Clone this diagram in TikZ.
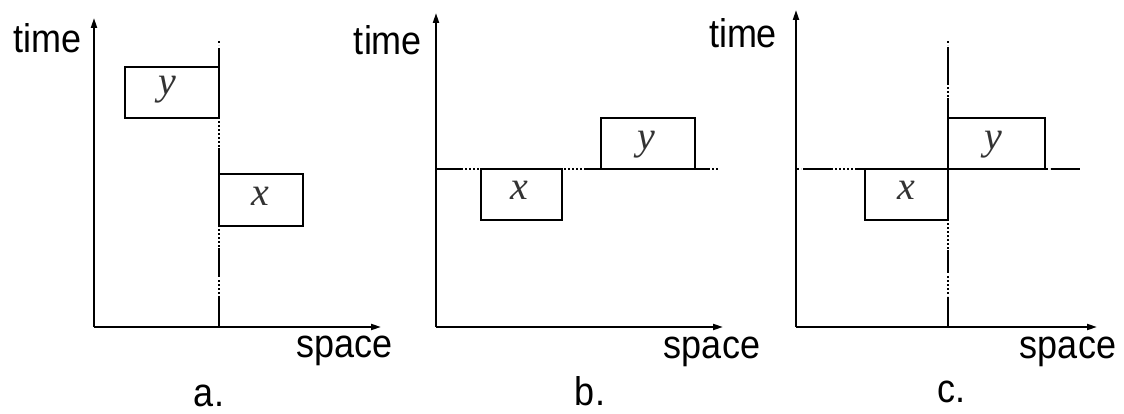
\documentclass[tikz,border=0pt]{standalone}
\usepackage{fontspec}
\setmainfont{Liberation Sans}
\newfontfamily\ltrserif{Liberation Serif}
\usetikzlibrary{arrows.meta}
\tikzset{
  ln/.style={line width=2pt, line cap=butt},
  axisln/.style={line width=2pt, -{Triangle[length=10pt,width=6pt]}},
  dotseg/.style={line width=2pt, dash pattern=on 2pt off 2pt},
  box/.style={draw, line width=2pt, inner sep=0pt, outer sep=0pt, rectangle},
  txt/.style={font=\fontsize{40}{44}\selectfont, inner sep=0pt, anchor=base, xscale=0.9, transform shape},
  var/.style={font=\ltrserif\itshape\fontsize{40}{44}\selectfont, inner sep=0pt, anchor=base, text=black!80},
}
\begin{document}
\begin{tikzpicture}[x=1pt,y=-1pt]
\useasboundingbox (0,0) rectangle (1124,414);
% ---------- panel a ----------
\coordinate (oa) at (94,327); \coordinate (ta) at (94,18); \coordinate (sa) at (381,327);
\draw[axisln] (oa) -- (ta);
\draw[axisln] (oa) -- (sa);
\node[txt] (timea) at (47.5,53) {time};
\node[txt] (spacea) at (344.5,357) {space};
\node[txt] (labela) at (209,406) {a.};
\node[box, minimum width=94pt, minimum height=51pt] (ay) at (172,92.5) {};
\node[box, minimum width=84pt, minimum height=51pt] (ax) at (261,200) {};
\node[var] (lay) at (167,95) {y};
\node[var] (lax) at (260,205) {x};
\draw[dotseg] (219,41) -- (219,45);
\draw[ln] (219,48) -- (219,118);
\draw[dotseg] (219,121) -- (219,147);
\draw[ln] (219,148) -- (219,226);
\draw[dotseg] (219,229) -- (219,247);
\draw[ln] (219,248) -- (219,277);
\draw[dotseg] (219,280) -- (219,295);
\draw[ln] (219,296) -- (oa -| ay.east);
% ---------- panel b ----------
\coordinate (ob) at (436,327); \coordinate (tb) at (436,13); \coordinate (sb) at (723,327);
\draw[axisln] (ob) -- (tb);
\draw[axisln] (ob) -- (sb);
\node[txt] (timeb) at (388,55) {time};
\node[txt] (spaceb) at (712,358) {space};
\node[txt] (labelb) at (590,405) {b.};
\node[box, minimum width=81pt, minimum height=51pt] (bx) at (521.5,194.5) {};
\node[box, minimum width=94pt, minimum height=51pt] (by) at (648,143.5) {};
\node[var] (lbx) at (519,200) {x};
\node[var] (lby) at (646,150) {y};
\draw[ln] (436,169) -- (463,169);
\draw[dotseg] (465,169) -- (480,169);
\draw[dotseg] (564,169) -- (583,169);
\draw[ln] (584,169) -- (by.south west);
\draw[ln] (by.south east) -- (710,169);
\draw[dotseg] (712,169) -- (718,169);
% ---------- panel c ----------
\coordinate (oc) at (796,327); \coordinate (tc) at (796,10); \coordinate (sc) at (1097,327);
\draw[axisln] (oc) -- (tc);
\draw[axisln] (oc) -- (sc);
\node[txt] (timec) at (743,48) {time};
\node[txt] (spacec) at (1068,358) {space};
\node[txt] (labelc) at (951,402) {c.};
\node[box, minimum width=83pt, minimum height=51pt] (cx) at (906.5,194.5) {};
\node[box, minimum width=97pt, minimum height=51pt] (cy) at (996.5,143.5) {};
\node[var] (lcx) at (906,200) {x};
\node[var] (lcy) at (993,150) {y};
% horizontal dash-dot line
\draw[dotseg] (797,169) -- (801,169);
\draw[ln] (803,169) -- (833,169);
\draw[dotseg] (835,169) -- (853,169);
\draw[ln] (855,169) -- (cx.north west);
\draw[dotseg] (1046,169) -- (1050,169);
\draw[ln] (1051,169) -- (1080,169);
% vertical dash-dot line
\draw[dotseg] (948,41) -- (948,45);
\draw[ln] (948,47) -- (948,85);
\draw[dotseg] (948,87) -- (948,97);
\draw[ln] (948,98) -- (cy.north west);
\draw[dotseg] (948,223) -- (948,249);
\draw[ln] (948,250) -- (948,273);
\draw[dotseg] (948,276) -- (948,296);
\draw[ln] (948,297) -- (oc -| cx.east);
\end{tikzpicture}
\end{document}
